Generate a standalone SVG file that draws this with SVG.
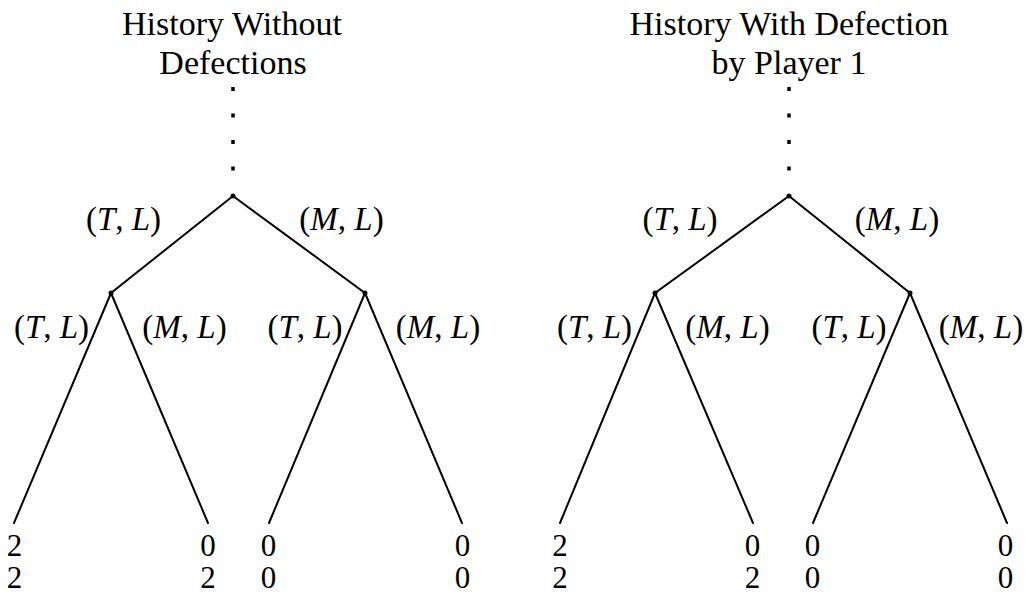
<svg xmlns="http://www.w3.org/2000/svg" width="1026" height="595" viewBox="0 0 1026 595">
<style>
text{font-family:"Liberation Serif","DejaVu Serif",serif;font-size:33px;fill:#000;text-anchor:middle}
.title{font-size:34px}
.pay{font-size:31px}
.v{font-style:italic}
.edge{stroke:#000;stroke-width:2;fill:none;stroke-linecap:round}
.dots{stroke:#000;stroke-width:3.5;stroke-dasharray:4 22.5;fill:none}
.dot{fill:#000}
</style>
<rect width="1026" height="595" fill="#fff"/>
<g id="connectors">
  <line class="dots" x1="233" y1="87" x2="233" y2="174"/>
  <line class="dots" x1="789" y1="87" x2="789" y2="174"/>
  <line class="edge" x1="233" y1="196" x2="111" y2="293"/>
  <line class="edge" x1="233" y1="196" x2="365" y2="293"/>
  <line class="edge" x1="111" y1="293" x2="14" y2="523"/>
  <line class="edge" x1="111" y1="293" x2="208" y2="523"/>
  <line class="edge" x1="365" y1="293" x2="269" y2="523"/>
  <line class="edge" x1="365" y1="293" x2="462" y2="523"/>
  <line class="edge" x1="789" y1="196" x2="655" y2="293"/>
  <line class="edge" x1="789" y1="196" x2="910" y2="293"/>
  <line class="edge" x1="655" y1="293" x2="560" y2="523"/>
  <line class="edge" x1="655" y1="293" x2="753" y2="523"/>
  <line class="edge" x1="910" y1="293" x2="813" y2="523"/>
  <line class="edge" x1="910" y1="293" x2="1007" y2="523"/>
  <g id="edge-labels">
    <text x="123.5" y="230">(<tspan class="v">T</tspan>, <tspan class="v">L</tspan>)</text>
    <text x="341.5" y="230">(<tspan class="v">M</tspan>, <tspan class="v">L</tspan>)</text>
    <text x="680" y="230">(<tspan class="v">T</tspan>, <tspan class="v">L</tspan>)</text>
    <text x="897" y="230">(<tspan class="v">M</tspan>, <tspan class="v">L</tspan>)</text>
    <text x="51.5" y="338">(<tspan class="v">T</tspan>, <tspan class="v">L</tspan>)</text>
    <text x="184.5" y="338">(<tspan class="v">M</tspan>, <tspan class="v">L</tspan>)</text>
    <text x="305" y="338">(<tspan class="v">T</tspan>, <tspan class="v">L</tspan>)</text>
    <text x="438" y="338">(<tspan class="v">M</tspan>, <tspan class="v">L</tspan>)</text>
    <text x="594.5" y="338">(<tspan class="v">T</tspan>, <tspan class="v">L</tspan>)</text>
    <text x="727.5" y="338">(<tspan class="v">M</tspan>, <tspan class="v">L</tspan>)</text>
    <text x="849" y="338">(<tspan class="v">T</tspan>, <tspan class="v">L</tspan>)</text>
    <text x="981" y="338">(<tspan class="v">M</tspan>, <tspan class="v">L</tspan>)</text>
  </g>
</g>
<g id="title-left"><text class="title" x="232" y="35">History Without</text><text class="title" x="233" y="74">Defections</text></g>
<g id="title-right"><text class="title" x="789" y="35">History With Defection</text><text class="title" x="789" y="74">by Player 1</text></g>
<g id="root-left"><circle class="dot" cx="233" cy="196" r="2.5"/></g>
<g id="root-right"><circle class="dot" cx="789" cy="196" r="2.5"/></g>
<g id="node-L1"><circle class="dot" cx="111" cy="293" r="2.5"/></g>
<g id="node-L2"><circle class="dot" cx="365" cy="293" r="2.5"/></g>
<g id="node-R1"><circle class="dot" cx="655" cy="293" r="2.5"/></g>
<g id="node-R2"><circle class="dot" cx="910" cy="293" r="2.5"/></g>
<g id="leaf-L1"><text class="pay" x="14.5" y="556">2</text><text class="pay" x="14.5" y="588">2</text></g>
<g id="leaf-L2"><text class="pay" x="208" y="556">0</text><text class="pay" x="208" y="588">2</text></g>
<g id="leaf-L3"><text class="pay" x="268.5" y="556">0</text><text class="pay" x="268.5" y="588">0</text></g>
<g id="leaf-L4"><text class="pay" x="462.5" y="556">0</text><text class="pay" x="462.5" y="588">0</text></g>
<g id="leaf-R1"><text class="pay" x="560" y="556">2</text><text class="pay" x="560" y="588">2</text></g>
<g id="leaf-R2"><text class="pay" x="752.5" y="556">0</text><text class="pay" x="752.5" y="588">2</text></g>
<g id="leaf-R3"><text class="pay" x="812.5" y="556">0</text><text class="pay" x="812.5" y="588">0</text></g>
<g id="leaf-R4"><text class="pay" x="1005.5" y="556">0</text><text class="pay" x="1005.5" y="588">0</text></g>
</svg>
